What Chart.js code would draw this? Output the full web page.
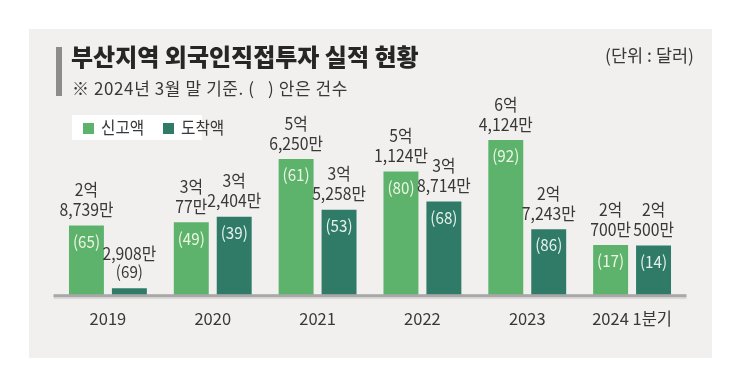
<!DOCTYPE html>
<html>
<head>
<meta charset="utf-8">
<script src="https://cdn.jsdelivr.net/npm/chart.js@4.4.1/dist/chart.umd.min.js"></script>
<style>
  html, body { margin: 0; padding: 0; background: #fff; }
  #wrap { width: 740px; height: 387px; position: relative; }
</style>
</head>
<body>
<div id="wrap"><canvas id="chart" width="740" height="387"></canvas></div>
<script>
// 단위: 만 달러
var years = ['2019', '2020', '2021', '2022', '2023', '2024 1분기'];
var reportAmt = [28739, 30077, 56250, 51124, 64124, 20700];
var arriveAmt = [2908, 32404, 35258, 38714, 27243, 20500];
var reportCnt = [65, 49, 61, 80, 92, 17];
var arriveCnt = [69, 39, 53, 68, 86, 14];
var seriesNames = ['신고액', '도착액'];

var FONT = '"Noto Sans CJK KR", "Noto Sans", sans-serif';
var lightGreen = '#5db36c';
var darkGreen = '#2f7b68';
var textColor = '#383838';

function amountLines(v) {
    var eok = Math.floor(v / 10000);
    var man = v % 10000;
    var lines = [];
    if (eok > 0) lines.push(eok + '억');
    if (man > 0) lines.push(man.toLocaleString('en-US') + '만');
    return lines;
}

// draw text squeezed horizontally (the original uses a condensed gothic)
function squeezeText(ctx, text, x, y, sx) {
    ctx.save();
    ctx.translate(x, y);
    ctx.scale(sx, 1);
    ctx.fillText(text, 0, 0);
    ctx.restore();
}

var frame = {
    id: 'frame',
    beforeDraw: function (chart) {
        var ctx = chart.ctx;
        ctx.save();
        ctx.fillStyle = '#ffffff';
        ctx.fillRect(0, 0, 740, 387);
        ctx.fillStyle = '#f1f0ee';
        ctx.fillRect(29, 29, 683, 329);

        // title block
        ctx.fillStyle = '#8c8c8c';
        ctx.fillRect(56, 47, 6, 49);
        ctx.fillStyle = '#262626';
        ctx.textBaseline = 'middle';
        ctx.textAlign = 'left';
        ctx.font = '900 24px ' + FONT;
        ctx.fillText('부산지역 외국인직접투자 실적 현황', 71, 57);
        ctx.fillStyle = textColor;
        ctx.font = '17px ' + FONT;
        ctx.letterSpacing = '0.6px';
        ctx.fillText('※ 2024년 3월 말 기준. (   ) 안은 건수', 72, 89);
        ctx.letterSpacing = '0px';
        ctx.textAlign = 'right';
        ctx.font = '17.5px ' + FONT;
        ctx.fillText('(단위 : 달러)', 694, 55);

        // legend
        ctx.fillStyle = '#ffffff';
        ctx.fillRect(72, 115, 130, 25);
        ctx.fillStyle = lightGreen;
        ctx.fillRect(83, 123, 11, 11);
        ctx.fillStyle = darkGreen;
        ctx.fillRect(163, 123, 11, 11);
        ctx.fillStyle = textColor;
        ctx.textAlign = 'left';
        ctx.font = '17px ' + FONT;
        squeezeText(ctx, seriesNames[0], 101, 128, 0.92);
        squeezeText(ctx, seriesNames[1], 181, 128, 0.92);
        ctx.restore();
    },
    afterDatasetsDraw: function (chart) {
        var ctx = chart.ctx;
        var area = chart.chartArea;
        ctx.save();
        // axis line with soft shadow
        ctx.fillStyle = '#dcdbd9';
        ctx.fillRect(area.left - 2, area.bottom + 1, area.right - area.left + 4, 3);
        ctx.fillStyle = '#a8a8a8';
        ctx.fillRect(area.left - 2, area.bottom - 1, area.right - area.left + 4, 3);

        ctx.textAlign = 'center';
        ctx.textBaseline = 'middle';
        var counts = [reportCnt, arriveCnt];
        var amounts = [reportAmt, arriveAmt];
        var inner = ['#eef6e4', '#e6f1ec'];
        chart.data.datasets.forEach(function (ds, di) {
            var meta = chart.getDatasetMeta(di);
            meta.data.forEach(function (bar, i) {
                var top = bar.y;
                var h = bar.base - bar.y;
                var lines = amountLines(amounts[di][i]);
                var cnt = '(' + counts[di][i] + ')';
                var y = top - 16;
                if (h >= 30) {
                    ctx.fillStyle = inner[di];
                    ctx.font = '16.5px ' + FONT;
                    squeezeText(ctx, cnt, bar.x, top + 16, 0.92);
                } else {
                    ctx.fillStyle = textColor;
                    ctx.font = '16.5px ' + FONT;
                    squeezeText(ctx, cnt, bar.x, y, 0.92);
                    y -= 19;
                }
                ctx.fillStyle = textColor;
                ctx.font = '17.5px ' + FONT;
                for (var k = lines.length - 1; k >= 0; k--) {
                    squeezeText(ctx, lines[k], bar.x, y, 0.9);
                    y -= 20;
                }
            });
        });
        ctx.restore();
    }
};

new Chart(document.getElementById('chart'), {
    type: 'bar',
    data: {
        labels: years,
        datasets: [
            { label: seriesNames[0], data: reportAmt, backgroundColor: lightGreen },
            { label: seriesNames[1], data: arriveAmt, backgroundColor: darkGreen }
        ]
    },
    options: {
        responsive: false,
        animation: false,
        devicePixelRatio: 1,
        layout: { padding: { left: 55.5, right: 55.5, top: 53, bottom: 44 } },
        datasets: { bar: { categoryPercentage: 0.819, barPercentage: 0.814 } },
        plugins: { legend: { display: false }, tooltip: { enabled: false } },
        scales: {
            x: {
                grid: { display: false, drawTicks: false },
                border: { display: false },
                ticks: { color: textColor, font: { family: FONT, size: 16.5 }, padding: 14, maxRotation: 0 }
            },
            y: { display: false, min: 0, max: 100000 }
        }
    },
    plugins: [frame]
});
</script>
</body>
</html>
